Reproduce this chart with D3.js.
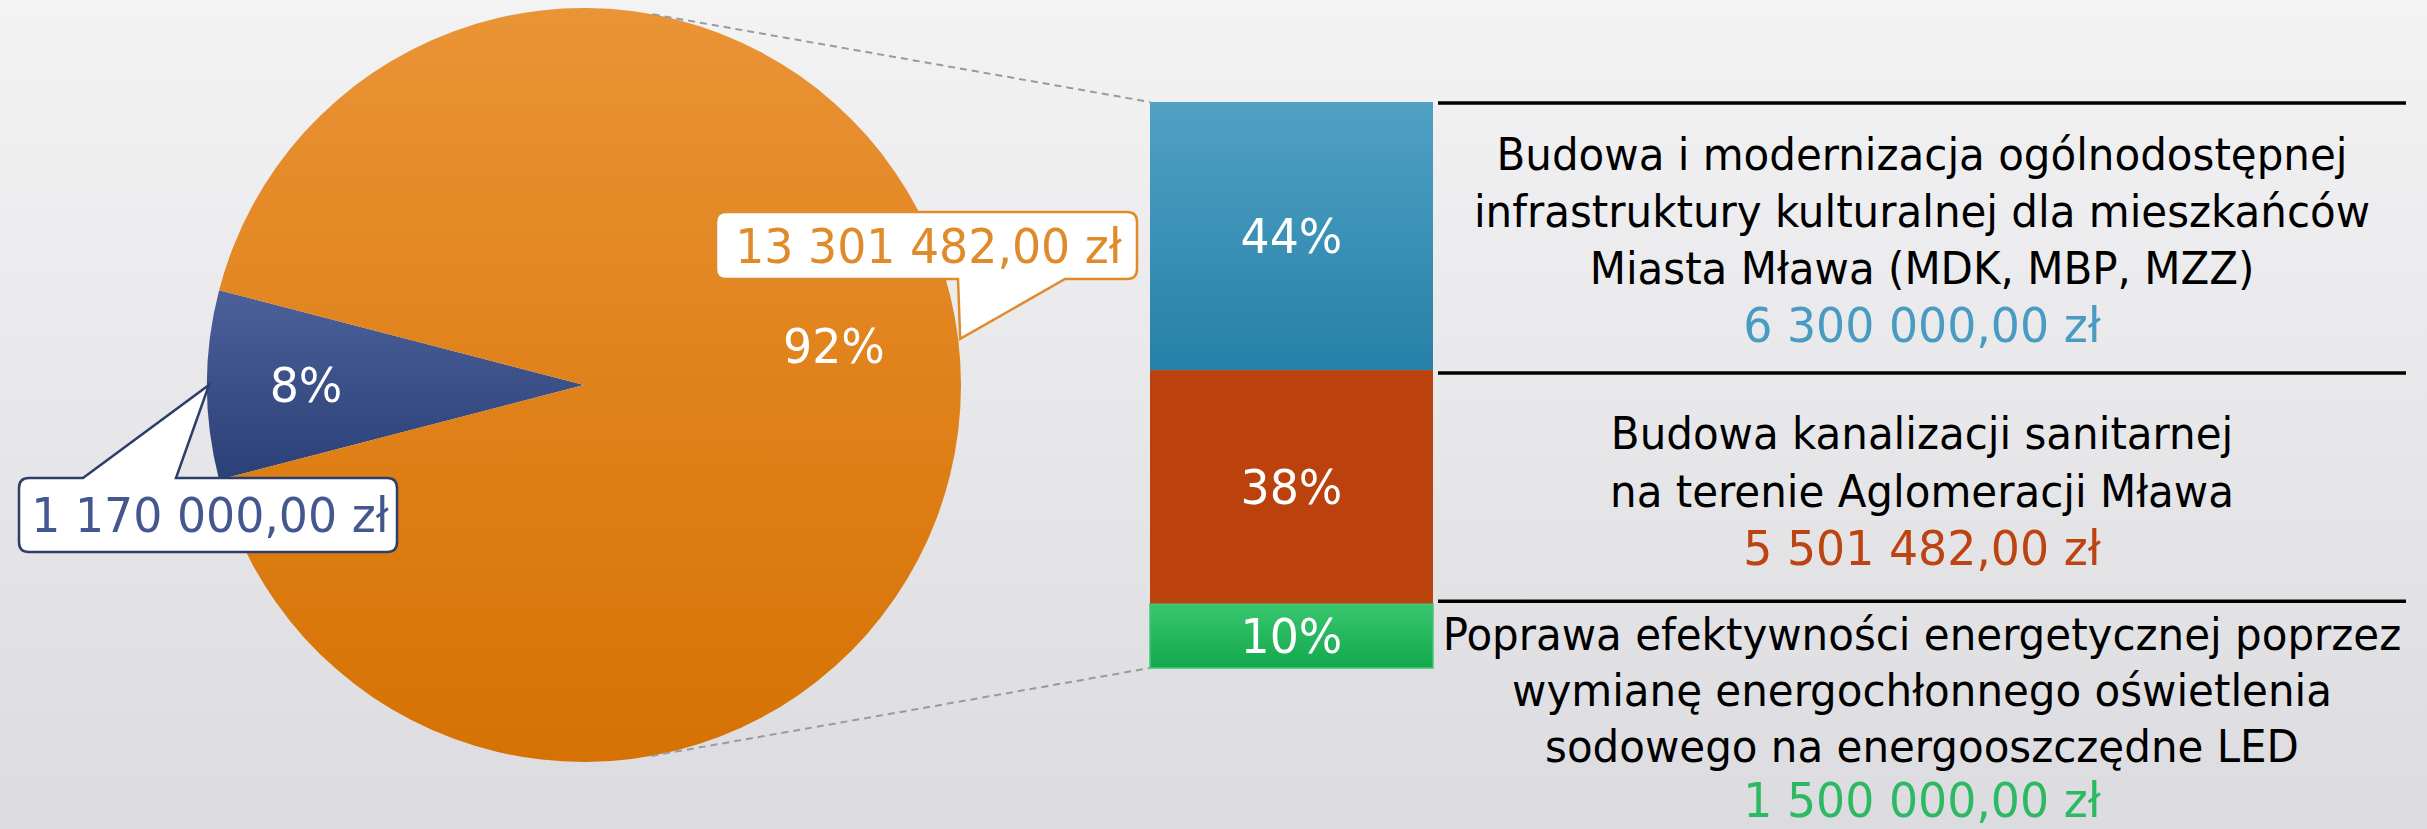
<!DOCTYPE html>
<html>
<head>
<meta charset="utf-8">
<script src="https://cdn.jsdelivr.net/npm/d3@7"></script>
<style>
  html, body { margin: 0; padding: 0; overflow: hidden; }
  svg { display: block; }
</style>
</head>
<body>
<svg id="chart" width="2427" height="829"></svg>
<script>
// ---------------- DATA ----------------
const pieCategories = ["Pozostałe", "Projekty"];
const pieValues = [1170000, 13301482];
const piePercents = ["8%", "92%"];
const pieAmounts = ["1 170 000,00 zł", "13 301 482,00 zł"];

const barCategories = [
  ["Budowa i modernizacja ogólnodostępnej", "infrastruktury kulturalnej dla mieszkańców", "Miasta Mława (MDK, MBP, MZZ)"],
  ["Budowa kanalizacji sanitarnej", "na terenie Aglomeracji Mława"],
  ["Poprawa efektywności energetycznej poprzez", "wymianę energochłonnego oświetlenia", "sodowego na energooszczędne LED"]
];
const barValues = [6300000, 5501482, 1500000];
const barPercents = ["44%", "38%", "10%"];
const barAmounts = ["6 300 000,00 zł", "5 501 482,00 zł", "1 500 000,00 zł"];

// ---------------- LAYOUT ----------------
const W = 2427, H = 829;
const cx = 584, cy = 385, R = 377;
const barX0 = 1150, barX1 = 1433, barTop = 102, barBottom = 668;
const lineX0 = 1438, lineX1 = 2406;
const textCX = 1922;
const FONT = "'DejaVu Sans Condensed', 'DejaVu Sans', Tahoma, sans-serif";

const svg = d3.select("#chart");
const defs = svg.append("defs");

function lin(id, x1, y1, x2, y2, stops) {
  const g = defs.append("linearGradient").attr("id", id)
    .attr("gradientUnits", "userSpaceOnUse")
    .attr("x1", x1).attr("y1", y1).attr("x2", x2).attr("y2", y2);
  stops.forEach(s => g.append("stop").attr("offset", s[0]).attr("stop-color", s[1]));
}
lin("bg", 0, 0, 0, H, [[0, "#F3F3F4"], [1, "#DCDCE0"]]);
// pie gradients are in the pie group's local (centred) coordinates
lin("gOrange", 0, -R, 0, R, [[0, "#E99436"], [0.5, "#E0821B"], [1, "#D67203"]]);
lin("gNavy", 0, -95, 0, 95, [[0, "#4C6099"], [1, "#2B4077"]]);

svg.append("rect").attr("width", W).attr("height", H).attr("fill", "url(#bg)");

// ---------------- PIE ----------------
const total = d3.sum(pieValues);
const navyAngle = 2 * Math.PI * pieValues[0] / total;
const pie = d3.pie().sort(null)
  .startAngle(-Math.PI / 2 - navyAngle / 2)
  .endAngle(-Math.PI / 2 - navyAngle / 2 + 2 * Math.PI);
const arcs = pie(pieValues);
const arc = d3.arc().innerRadius(0).outerRadius(R);
const pieFills = ["url(#gNavy)", "url(#gOrange)"];

const gPie = svg.append("g").attr("transform", `translate(${cx},${cy})`);
gPie.selectAll("path.slice").data(arcs).join("path")
  .attr("class", "slice")
  .attr("d", arc)
  .attr("fill", (d, i) => pieFills[i]);

const pt = (a, r) => [cx + r * Math.sin(a), cy - r * Math.cos(a)];

// connector dashed lines
const yBar = d3.scaleLinear().domain([0, d3.max([d3.sum(barValues), pieValues[1]])]).range([barTop, barBottom]);
const topPt = pt(10.5 * Math.PI / 180, R);
const botPt = pt((180 - 10.3) * Math.PI / 180, R);
svg.append("line").attr("x1", topPt[0]).attr("y1", topPt[1]).attr("x2", barX0).attr("y2", yBar(0))
  .attr("stroke", "#9A9A9C").attr("stroke-width", 2).attr("stroke-dasharray", "7,5");
svg.append("line").attr("x1", botPt[0]).attr("y1", botPt[1]).attr("x2", barX0).attr("y2", yBar(d3.sum(barValues)))
  .attr("stroke", "#9A9A9C").attr("stroke-width", 2).attr("stroke-dasharray", "7,5");

// percent labels on pie
const labelPos = [[-278, 0], [250, -39]];
gPie.selectAll("text.pct").data(arcs).join("text")
  .attr("class", "pct")
  .attr("x", (d, i) => labelPos[i][0])
  .attr("y", (d, i) => labelPos[i][1] + 17)
  .attr("text-anchor", "middle")
  .attr("font-family", FONT).attr("font-size", 48)
  .attr("fill", "#FFFFFF")
  .text((d, i) => piePercents[i]);

// callouts
function callout(x0, y0, x1, y1, r, side, ta, tb, px, py) {
  let p = `M${x0 + r},${y0}`;
  if (side === "top") p += ` H${ta} L${px},${py} L${tb},${y0}`;
  p += ` H${x1 - r} Q${x1},${y0} ${x1},${y0 + r} V${y1 - r} Q${x1},${y1} ${x1 - r},${y1}`;
  if (side === "bottom") p += ` H${tb} L${px},${py} L${ta},${y1}`;
  p += ` H${x0 + r} Q${x0},${y1} ${x0},${y1 - r} V${y0 + r} Q${x0},${y0} ${x0 + r},${y0} Z`;
  return p;
}
const navyTip = pt(arcs[0].startAngle + (arcs[0].endAngle - arcs[0].startAngle) / 2, R - 2);
const orangeTip = pt(83 * Math.PI / 180, R + 2);
const callouts = [
  { box: [19, 478, 397, 552], side: "top", ta: 83, tb: 176, tip: navyTip, stroke: "#2E3E6B", color: "#44588F" },
  { box: [716, 212, 1137, 279], side: "bottom", ta: 958, tb: 1065, tip: orangeTip, stroke: "#E08B2B", color: "#E08B2B" }
];
callouts.forEach((c, i) => {
  svg.append("path")
    .attr("d", callout(c.box[0], c.box[1], c.box[2], c.box[3], 10, c.side, c.ta, c.tb, c.tip[0], c.tip[1]))
    .attr("fill", "#FFFFFF").attr("stroke", c.stroke).attr("stroke-width", 2.5)
    .attr("stroke-linejoin", "miter");
  svg.append("text").attr("class", "fit")
    .attr("x", (c.box[0] + c.box[2]) / 2 + 2)
    .attr("y", (c.box[1] + c.box[3]) / 2 + 17)
    .attr("text-anchor", "middle")
    .attr("font-family", FONT).attr("font-size", 48)
    .attr("fill", c.color)
    .text(pieAmounts[i]);
});

// ---------------- STACKED BAR ----------------
lin("gBlue", 0, yBar(0), 0, yBar(barValues[0]), [[0, "#50A1C4"], [1, "#2680A7"]]);
lin("gGreen", 0, yBar(barValues[0] + barValues[1]), 0, yBar(d3.sum(barValues)), [[0, "#3AC66F"], [1, "#12A84C"]]);
const barFills = ["url(#gBlue)", "#BB420C", "url(#gGreen)"];
const barStrokes = ["none", "none", "#44C576"];
const textColors = ["#4A9BC1", "#BC4411", "#2DB963"];

const stackData = [];
let acc = 0;
barValues.forEach((v, i) => { stackData.push({ i, y0: acc, y1: acc + v }); acc += v; });

svg.selectAll("rect.seg").data(stackData).join("rect")
  .attr("class", "seg")
  .attr("x", barX0).attr("width", barX1 - barX0)
  .attr("y", d => yBar(d.y0)).attr("height", d => yBar(d.y1) - yBar(d.y0))
  .attr("fill", d => barFills[d.i])
  .attr("stroke", d => barStrokes[d.i]).attr("stroke-width", 1.5);

svg.selectAll("text.barpct").data(stackData).join("text")
  .attr("class", "barpct")
  .attr("x", (barX0 + barX1) / 2)
  .attr("y", d => (yBar(d.y0) + yBar(d.y1)) / 2 + 17)
  .attr("text-anchor", "middle")
  .attr("font-family", FONT).attr("font-size", 48)
  .attr("fill", "#FFFFFF")
  .text(d => barPercents[d.i]);

// separator lines
const sepYs = [yBar(0) + 1, yBar(barValues[0]) + 3, yBar(barValues[0] + barValues[1]) - 3];
svg.selectAll("line.sep").data(sepYs).join("line")
  .attr("class", "sep")
  .attr("x1", lineX0).attr("x2", lineX1)
  .attr("y1", d => d).attr("y2", d => d)
  .attr("stroke", "#000000").attr("stroke-width", 3.5);

// description texts
stackData.forEach(d => {
  const lines = barCategories[d.i];
  const n = lines.length + 1;
  const LH = d.i === 2 ? 56 : 57.3;
  let first;
  if (d.i < 2) {
    const mid = (yBar(d.y0) + yBar(d.y1)) / 2;
    first = mid + 19.5 - (n - 1) / 2 * LH;
  } else {
    first = yBar(d.y0) + 46;
  }
  lines.forEach((t, j) => {
    svg.append("text").attr("class", "fit")
      .attr("x", textCX).attr("y", first + j * LH)
      .attr("text-anchor", "middle")
      .attr("font-family", FONT).attr("font-size", 44)
      .attr("fill", "#000000")
      .text(t);
  });
  svg.append("text").attr("class", "fit")
    .attr("x", textCX).attr("y", first + lines.length * LH + (d.i === 2 ? -1 : 1))
    .attr("text-anchor", "middle")
    .attr("font-family", FONT).attr("font-size", 48)
    .attr("fill", textColors[d.i])
    .text(barAmounts[d.i]);
});

// condense text to approximate Tahoma widths
const probe = svg.append("text").attr("font-family", FONT).attr("font-size", 44)
  .attr("x", -5000).attr("y", -5000).text(barCategories[0][0]);
const k = 851 / probe.node().getComputedTextLength();
probe.remove();
svg.selectAll("text").each(function () {
  const len = this.getComputedTextLength();
  d3.select(this).attr("textLength", len * k).attr("lengthAdjust", "spacingAndGlyphs");
});
</script>
</body>
</html>
